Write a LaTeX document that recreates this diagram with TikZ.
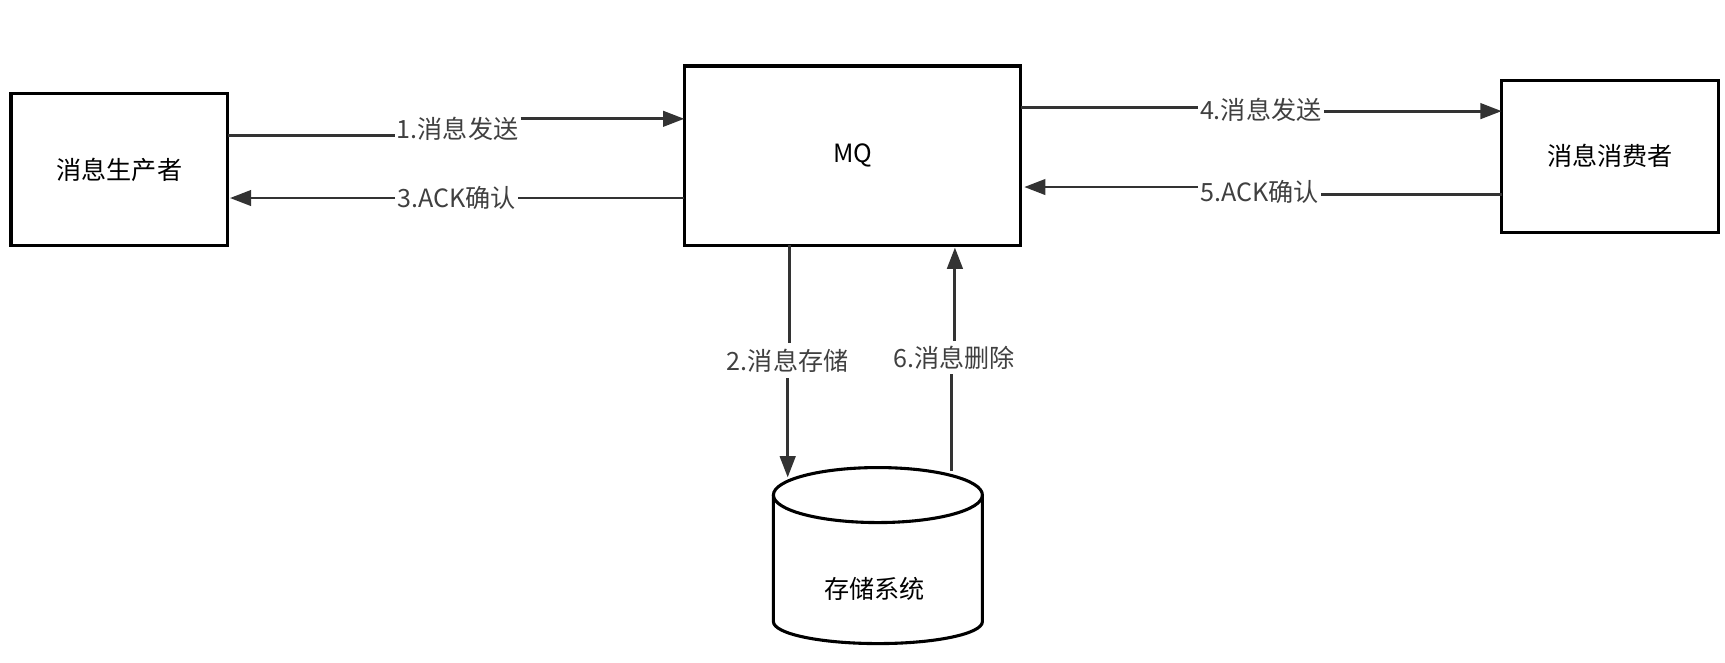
\documentclass[tikz,border=0pt]{standalone}
\usepackage{fontspec}
\newfontfamily\cjk{Noto Sans CJK SC}
\usetikzlibrary{arrows.meta}
\begin{document}
\begin{tikzpicture}[x=0.02cm,y=-0.02cm,
 box/.style={draw,line width=1.6pt,minimum width=0pt,inner sep=0pt},
 lab/.style={font=\cjk\fontsize{13}{15}\selectfont,text=black!75,inner sep=1pt},
 ln/.style={line width=1.5pt,black!80},
 ar/.style={ln,-{Triangle[length=11pt,width=8pt]}},
 txt/.style={font=\cjk\fontsize{13}{15}\selectfont}]
\useasboundingbox (0,0) rectangle (1568,602);
\node[box,minimum width=197*0.02cm,minimum height=138*0.02cm] (p) at (108.5,154) {};
\node[txt] at (p) {消息生产者};
\node[box,minimum width=306*0.02cm,minimum height=163*0.02cm] (mq) at (775,141.5) {};
\node[txt] at (mq) {MQ};
\node[box,minimum width=197*0.02cm,minimum height=138*0.02cm] (c) at (1463.5,142) {};
\node[txt] at (c) {消息消费者};
% cylinder
\draw[line width=1.6pt] (703,450) -- (703,565) arc[start angle=180,end angle=0,x radius=95,y radius=20] -- (893,450);
\draw[line width=1.6pt] (798,450) ellipse[x radius=95,y radius=25];
\node[txt] at (795,535) {存储系统};
% labels
\node[lab] (l1) at (416,117) {1.消息发送};
\node[lab] (l3) at (415,180) {3.ACK确认};
\node[lab] (l4) at (1146,100) {4.消息发送};
\node[lab] (l5) at (1145,174) {5.ACK确认};
\node[lab] (l2) at (716,328) {2.消息存储};
\node[lab] (l6) at (867,325) {6.消息删除};
% arrows
\draw[ln] (207,123) -- (l1.west|-0,123);
\draw[ar] (l1.east|-0,108) -- (622,108);
\draw[ln] (622,180) -- (l3.east|-0,180);
\draw[ar] (l3.west|-0,180) -- (209,180);
\draw[ln] (928,98) -- (l4.west|-0,98);
\draw[ar] (l4.east|-0,101) -- (1365,101);
\draw[ln] (1365,177) -- (l5.east|-0,177);
\draw[ar] (l5.west|-0,170) -- (931,170);
\draw[ln] (718,223) -- (718,312);
\draw[ar] (716,344) -- (716,434);
\draw[ln] (865,428) -- (865,340);
\draw[ar] (868,310) -- (868,225);
\end{tikzpicture}
\end{document}
